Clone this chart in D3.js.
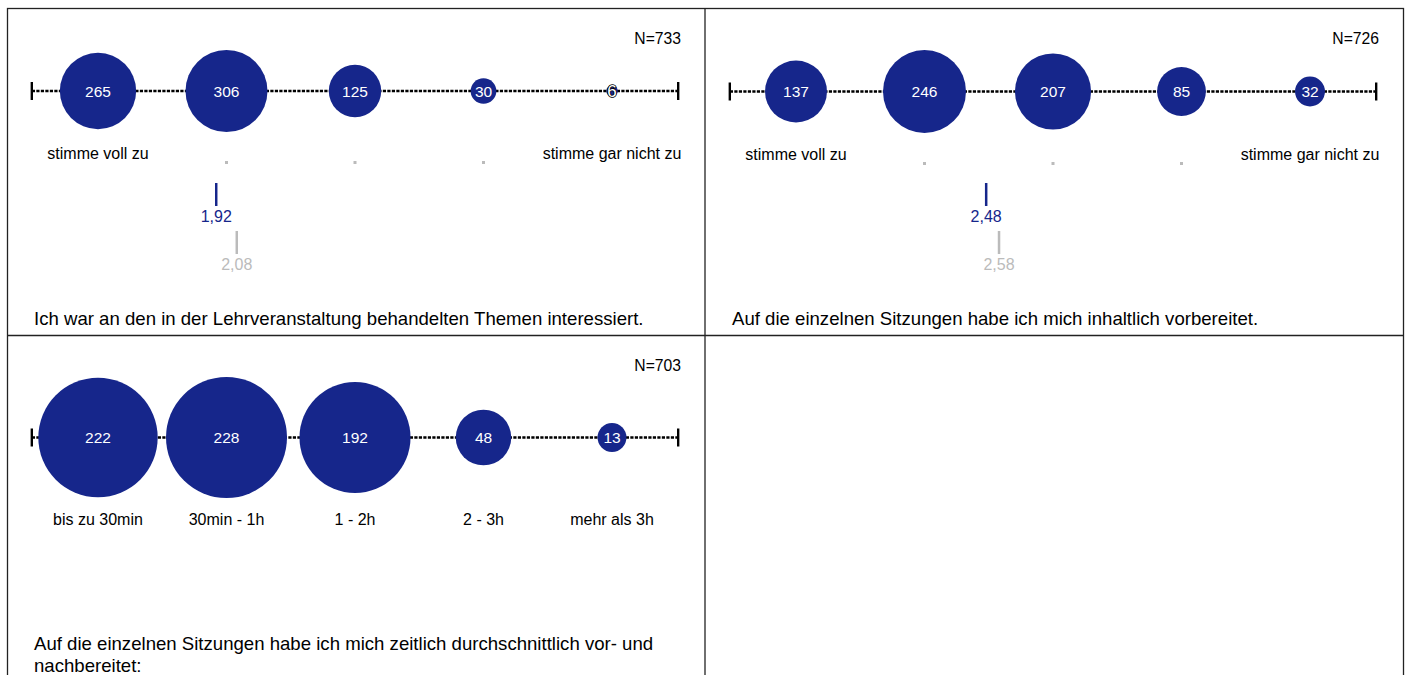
<!DOCTYPE html>
<html>
<head>
<meta charset="utf-8">
<script src="https://cdn.jsdelivr.net/npm/d3@7"></script>
<style>
  body { margin: 0; background: #fff; }
  text { font-family: "Liberation Sans", Arial, sans-serif; }
</style>
</head>
<body>
<div id="chart"></div>
<script>
// data
var questions = [
    ["Ich war an den in der Lehrveranstaltung behandelten Themen interessiert."],
    ["Auf die einzelnen Sitzungen habe ich mich inhaltlich vorbereitet."],
    ["Auf die einzelnen Sitzungen habe ich mich zeitlich durchschnittlich vor- und", "nachbereitet:"]
];
var counts1 = [265, 306, 125, 30, 6];
var counts2 = [137, 246, 207, 85, 32];
var counts3 = [222, 228, 192, 48, 13];
var totals = [733, 726, 703];
var agreeLabels = ["stimme voll zu", ".", ".", ".", "stimme gar nicht zu"];
var timeLabels = ["bis zu 30min", "30min - 1h", "1 - 2h", "2 - 3h", "mehr als 3h"];
var means1 = [1.92, 2.08];
var means2 = [2.48, 2.58];
var meanLabels1 = ["1,92", "2,08"];
var meanLabels2 = ["2,48", "2,58"];

var w = 1406, h = 675;
var blue = "#16268b";

var svg = d3.select("#chart").append("svg")
    .attr("width", w)
    .attr("height", h);

var panels = [
    { x: 7, y: 8, counts: counts1, labels: agreeLabels, means: means1, meanLabels: meanLabels1, maxR: 41 },
    { x: 705, y: 8, counts: counts2, labels: agreeLabels, means: means2, meanLabels: meanLabels2, maxR: 41.5 },
    { x: 7, y: 335, counts: counts3, labels: timeLabels, means: null, meanLabels: null, maxR: 60.5 }
];

// frames incl. empty 4th panel
svg.append("rect").attr("x", 7.5).attr("y", 8.5).attr("width", 1396).attr("height", 700)
    .attr("fill", "none").attr("stroke", "#222").attr("stroke-width", 1.3);
svg.append("line").attr("x1", 705).attr("x2", 705).attr("y1", 8).attr("y2", h)
    .attr("stroke", "#222").attr("stroke-width", 1.3);
svg.append("line").attr("x1", 7).attr("x2", 1403).attr("y1", 335.5).attr("y2", 335.5)
    .attr("stroke", "#222").attr("stroke-width", 1.3);

panels.forEach(function (p, i) {
    var g = svg.append("g").attr("transform", "translate(" + p.x + "," + p.y + ")");

    var x = d3.scaleLinear().domain([1, 5]).range([91, 605]);
    var r = d3.scaleSqrt().domain([0, d3.max(p.counts)]).range([0, p.maxR]);
    var axisY = 42 + p.maxR;
    var labelY = axisY + p.maxR + 27;

    g.append("text")
        .attr("x", 674).attr("y", 36)
        .attr("text-anchor", "end")
        .attr("font-size", 15.7)
        .text("N=" + totals[i]);

    // dashed axis line with end ticks
    g.append("line")
        .attr("x1", x(0.485)).attr("x2", x(5.515))
        .attr("y1", axisY).attr("y2", axisY)
        .attr("stroke", "#000").attr("stroke-width", 2.4)
        .attr("stroke-dasharray", "3.2,1.3");
    [0.485, 5.515].forEach(function (v) {
        g.append("line")
            .attr("x1", x(v)).attr("x2", x(v))
            .attr("y1", axisY - 9).attr("y2", axisY + 9)
            .attr("stroke", "#000").attr("stroke-width", 2.4);
    });

    var bubbles = g.selectAll(".bubble")
        .data(p.counts)
        .enter()
        .append("g")
        .attr("class", "bubble")
        .attr("transform", function (d, j) { return "translate(" + x(j + 1) + "," + axisY + ")"; });

    bubbles.append("circle")
        .attr("r", function (d) { return r(d); })
        .attr("fill", blue);

    // labels of tiny bubbles get a dark outline
    bubbles.append("text")
        .attr("text-anchor", "middle")
        .attr("dy", "0.36em")
        .attr("font-size", function (d) { return r(d) < 9 ? 17 : 15.5; })
        .attr("fill", "#fff")
        .attr("stroke", function (d) { return r(d) < 9 ? "#000" : "none"; })
        .attr("stroke-width", 1.6)
        .attr("paint-order", "stroke")
        .text(function (d) { return d; });

    // scale labels; "." placeholders drawn as small grey squares
    p.labels.forEach(function (lab, j) {
        if (lab === ".") {
            g.append("rect")
                .attr("x", x(j + 1) - 1.5).attr("y", labelY + 2)
                .attr("width", 3).attr("height", 3)
                .attr("fill", "#bbb");
        } else {
            g.append("text")
                .attr("x", x(j + 1)).attr("y", labelY)
                .attr("text-anchor", "middle")
                .attr("font-size", 16)
                .text(lab);
        }
    });

    // means: own value blue, comparison grey
    if (p.means) {
        var mColors = [blue, "#bbb"];
        p.means.forEach(function (m, k) {
            var top = 175 + k * 48;
            g.append("line")
                .attr("x1", x(m)).attr("x2", x(m))
                .attr("y1", top).attr("y2", top + 23)
                .attr("stroke", mColors[k]).attr("stroke-width", 2.5);
            g.append("text")
                .attr("x", x(m)).attr("y", top + 39)
                .attr("text-anchor", "middle")
                .attr("font-size", 16)
                .attr("fill", mColors[k])
                .text(p.meanLabels[k]);
        });
    }

    // question text at the bottom
    var qTop = i < 2 ? 317 : 315;
    questions[i].forEach(function (line, k) {
        g.append("text")
            .attr("x", 27).attr("y", qTop + k * 22)
            .attr("font-size", 18.6)
            .text(line);
    });
});
</script>
</body>
</html>
